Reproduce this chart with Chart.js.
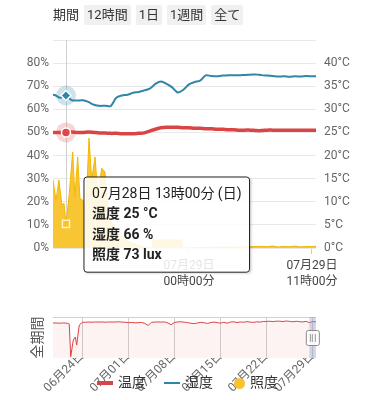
<!DOCTYPE html>
<html lang="ja">
<head>
<meta charset="utf-8">
<script src="https://cdn.jsdelivr.net/npm/chart.js@4.4.1/dist/chart.umd.min.js"></script>
<style>
  body { margin: 0; background: #fff; }
  #wrap { position: relative; width: 375px; height: 400px; overflow: hidden; font-family: Roboto, 'Noto Sans CJK JP', sans-serif; color: #333; }
  #btns { position: absolute; left: 53px; top: 5px; height: 20px; line-height: 20px; font-size: 13px; z-index: 2; }
  #btns span { display: inline-block; margin-right: 2px; }
  #btns .btn { background: #f0f0f0; padding: 0 3px; margin-left: 3px; border-radius: 2px; }
  #legend { position: absolute; left: 97px; top: 373px; height: 18px; font-size: 14px; line-height: 18px; z-index: 2; }
  #legend .item { position: absolute; top: 0; white-space: nowrap; }
  #legend .mark { display: inline-block; vertical-align: middle; margin-right: 5px; }
  canvas { position: absolute; left: 0; }
</style>
</head>
<body>
<div id="wrap">
  <canvas id="mainChart" width="375" height="300" style="top:0"></canvas>
  <canvas id="ovChart" width="375" height="100" style="top:300px"></canvas>
  <div id="btns"><span>期間</span><span class="btn">12時間</span><span class="btn">1日</span><span class="btn">1週間</span><span class="btn">全て</span></div>
  <div id="legend">
    <div class="item" style="left:0"><span class="mark" style="width:16px;height:4px;background:#d94444"></span>温度</div>
    <div class="item" style="left:67px"><span class="mark" style="width:16px;height:2px;background:#2f86a6"></span>湿度</div>
    <div class="item" style="left:137px"><span class="mark" style="width:11px;height:11px;border-radius:50%;background:#f9c22a"></span>照度</div>
  </div>
</div>
<script>
// 07/28 00:00 からの経過時間(時)
const hours = [11.5, 12, 12.5, 13, 13.5, 14, 14.5, 15, 15.5, 16, 16.5, 17, 17.5, 18, 18.5, 19, 19.5, 20, 20.5, 21,
  21.5, 22, 22.5, 23, 23.5, 24, 24.5, 25, 25.5, 26, 26.5, 27, 27.5, 28, 28.5, 29, 29.5, 30, 30.5, 31,
  31.5, 32, 32.5, 33, 33.5, 34, 34.5, 35, 35.5];
const tempValues = [25.0, 25.0, 25.0, 25.0, 25.1, 25.0, 25.0, 25.1, 25.0, 24.9, 24.9, 24.8, 24.8, 24.7, 24.7, 24.7, 24.8, 24.9, 25.3, 25.7,
  26.0, 26.1, 26.1, 26.1, 26.0, 26.0, 25.9, 25.9, 25.8, 25.8, 25.7, 25.7, 25.6, 25.6, 25.5, 25.5, 25.5, 25.4, 25.4, 25.5,
  25.5, 25.5, 25.5, 25.5, 25.5, 25.5, 25.5, 25.5, 25.5];
const humValues = [66.5, 66.2, 65.0, 66.0, 64.0, 63.8, 63.9, 63.2, 62.0, 61.5, 61.6, 61.4, 65.0, 66.0, 66.3, 67.2, 67.5, 68.2, 69.0, 71.0,
  72.0, 71.0, 69.5, 67.3, 68.5, 70.8, 71.8, 72.4, 74.7, 74.4, 74.3, 74.6, 74.7, 74.8, 74.7, 74.9, 75.0, 75.1, 74.8, 74.6,
  74.4, 74.2, 74.3, 74.1, 74.3, 74.2, 74.4, 74.3, 74.3];
const luxHours = [11.5, 11.84, 12.11, 12.37, 12.64, 12.82, 13, 13.27, 13.6, 13.8, 14.05, 14.25, 14.5, 14.79, 15.06, 15.3, 15.6, 15.86, 16.19, 16.49,
  16.67, 16.94, 17.4, 17.8, 18.7, 19.6, 20.5, 20.75, 20.8, 23.35, 23.4, 26, 29, 30.5, 31, 31.5, 32, 32.5, 33, 33.5,
  34, 34.5, 35, 35.5];
const luxValues = [180, 206, 145, 206, 130, 136, 73, 155, 291, 155, 276, 150, 145, 124, 333, 206, 276, 155, 242, 230,
  145, 85, 55, 36, 18, 6, 0, 0, 24, 24, 0, 2, 3, 5, 4, 6, 3, 5, 4, 6,
  3, 5, 4, 6];

// 全期間 (06/24 00:00 からの経過日数)
const ovDays = [-4.5, -4, -3.5, -3, -2.5, -2.2, -1.98, -1.76, -1.37, -1.06, -0.85, -0.46,
  0, 0.5, 1, 1.5, 2, 2.5, 3, 3.5, 4, 4.5, 5, 5.5, 6, 6.5, 7, 7.5, 8, 8.5, 9, 9.5, 10, 10.5, 11, 11.5,
  12, 12.5, 13, 13.5, 14, 14.5, 15, 15.5, 16, 16.5, 17, 17.5, 18, 18.5, 19, 19.5, 20, 20.5, 21, 21.5,
  22, 22.5, 23, 23.5, 24, 24.5, 25, 25.5, 26, 26.5, 27, 27.5, 28, 28.5, 29, 29.5, 30, 30.5, 31, 31.5,
  32, 32.5, 33, 33.5, 34, 34.5, 35, 35.5];
const ovTemps = [24.7, 24.8, 24.6, 24.8, 24.7, 24.5, 24.0, 0.9, 12.7, 14.9, 9.2, 23.3,
  25.2, 25.3, 25.4, 25.3, 25.5, 25.4, 25.5, 25.3, 25.5, 25.4, 25.5, 25.6, 25.4, 25.3, 25.0, 25.1, 24.9, 25.0, 25.1, 24.5, 23.0, 25.2, 25.4, 25.5,
  25.4, 25.5, 24.8, 23.5, 25.2, 25.5, 25.6, 25.3, 25.0, 24.6, 24.3, 24.8, 25.2, 24.9, 24.5, 25.0, 25.4, 25.0, 24.7, 25.3,
  24.6, 25.4, 25.6, 25.1, 25.5, 25.3, 25.7, 25.4, 25.2, 25.6, 25.4, 25.8, 25.9, 26.0, 25.7, 26.1, 26.0, 25.8, 26.2, 25.9,
  25.6, 26.0, 25.7, 25.5, 25.9, 25.0, 25.8, 25.6];

// 目盛り
const xTickHours = [24, 35];
const ovTickDays = [0, 7, 14, 21, 28, 35];
const ovTickLabels = ['06月24日', '07月01日', '07月08日', '07月15日', '07月22日', '07月29日'];
const humTicks = [0, 10, 20, 30, 40, 50, 60, 70, 80, 90];
const tempTicks = [0, 5, 10, 15, 20, 25, 30, 35, 40, 45];

const viewMin = 11.84, viewMax = 35.36;
const units = { '温度': '°C', '湿度': '%', '照度': 'lux' };
const weekDays = ['日', '月'];

Chart.defaults.font.family = "Roboto, 'Noto Sans CJK JP', sans-serif";
Chart.defaults.color = '#666';

function pad2(n) { return String(n).padStart(2, '0'); }
function dayLabel(h) { return '07月' + pad2(28 + Math.floor(h / 24)) + '日'; }
function timeLabel(h) {
  const m = Math.round((h % 24) * 60);
  return pad2(Math.floor(m / 60)) + '時' + pad2(m % 60) + '分';
}
function toPoints(xs, ys) { return xs.map((x, i) => ({ x: x, y: ys[i] })); }

// ツールチップを点の右下に置く
Chart.Tooltip.positioners.besideLine = function (items) {
  if (!items.length) return false;
  return { x: items[0].element.x + 21, y: this.chart.chartArea.top + 137 };
};

// 縦線とハイライトの輪
const hoverMarks = {
  id: 'hoverMarks',
  beforeDatasetsDraw(chart) {
    const act = chart.getActiveElements();
    if (!act.length) return;
    const ctx = chart.ctx, a = chart.chartArea;
    ctx.save();
    ctx.strokeStyle = '#d0d0d0';
    ctx.lineWidth = 1;
    ctx.beginPath();
    ctx.moveTo(Math.round(act[0].element.x) + 0.5, a.top);
    ctx.lineTo(Math.round(act[0].element.x) + 0.5, a.bottom);
    ctx.stroke();
    act.forEach(function (it) {
      const halo = chart.data.datasets[it.datasetIndex].haloColor;
      if (!halo) return;
      ctx.fillStyle = halo;
      ctx.beginPath();
      ctx.arc(it.element.x, it.element.y, 10, 0, Math.PI * 2);
      ctx.fill();
    });
    ctx.restore();
  },
  beforeTooltipDraw(chart, args) {
    const t = args.tooltip;
    if (!t.opacity) return;
    const ctx = chart.ctx;
    ctx.save();
    ctx.beginPath();
    ctx.rect(0, 0, chart.width, chart.height);
    ctx.rect(t.x + t.width, t.y, -t.width, t.height);
    ctx.clip('evenodd');
    ctx.shadowColor = 'rgba(0,0,0,0.35)';
    ctx.shadowBlur = 3;
    ctx.shadowOffsetX = 1;
    ctx.shadowOffsetY = 1;
    ctx.fillStyle = '#fff';
    ctx.fillRect(t.x, t.y, t.width, t.height);
    ctx.restore();
  }
};

const mainChart = new Chart(document.getElementById('mainChart'), {
  type: 'line',
  data: {
    datasets: [{
      label: '温度',
      data: toPoints(hours, tempValues),
      yAxisID: 'yT',
      borderColor: '#d94444',
      borderWidth: 3.5,
      pointRadius: 0,
      pointHoverRadius: 4.5,
      pointHoverBackgroundColor: '#e04848',
      pointHoverBorderColor: '#fff',
      pointHoverBorderWidth: 1.5,
      haloColor: 'rgba(230,90,90,0.25)',
      tension: 0.3
    }, {
      label: '湿度',
      data: toPoints(hours, humValues),
      yAxisID: 'yH',
      borderColor: '#2f86a6',
      borderWidth: 2,
      pointRadius: 0,
      pointStyle: 'rectRot',
      pointHoverRadius: 5,
      pointHoverBackgroundColor: '#2f86a6',
      pointHoverBorderColor: '#fff',
      pointHoverBorderWidth: 1.5,
      haloColor: 'rgba(90,150,185,0.28)',
      tension: 0.3
    }, {
      label: '照度',
      data: toPoints(luxHours, luxValues),
      yAxisID: 'yL',
      borderColor: '#f2b705',
      backgroundColor: '#f9c633',
      borderWidth: 1,
      fill: 'origin',
      pointRadius: 0,
      pointStyle: 'rect',
      pointHoverRadius: 5,
      pointHoverBackgroundColor: '#f9c22a',
      pointHoverBorderColor: '#fff4c0',
      pointHoverBorderWidth: 1.5,
      tension: 0
    }]
  },
  options: {
    responsive: false,
    animation: false,
    events: [],
    layout: { padding: { top: 40, left: 0, right: 0, bottom: 0 } },
    scales: {
      x: {
        type: 'linear', min: viewMin, max: viewMax,
        afterBuildTicks: s => { s.ticks = xTickHours.map(v => ({ value: v })); },
        afterFit: s => { s.height = 52; },
        ticks: {
          autoSkip: false, maxRotation: 0, color: '#444', padding: 4,
          font: { size: 12, lineHeight: 1.35 },
          callback: v => [dayLabel(v), timeLabel(v)]
        },
        grid: { drawOnChartArea: false, tickLength: 6, color: '#cccccc' },
        border: { display: false }
      },
      yH: {
        position: 'left', min: 0, max: 90,
        afterBuildTicks: s => { s.ticks = humTicks.map(v => ({ value: v })); },
        afterFit: s => { s.width = 53; },
        ticks: { padding: 4, font: { size: 12 }, callback: v => v === 90 ? '' : v + '%' },
        grid: { color: '#e8e8e8', drawTicks: false },
        border: { display: false }
      },
      yT: {
        position: 'right', min: 0, max: 45,
        afterBuildTicks: s => { s.ticks = tempTicks.map(v => ({ value: v })); },
        afterFit: s => { s.width = 59; },
        ticks: { padding: 8, font: { size: 12 }, callback: v => v === 45 ? '' : v + '°C' },
        grid: { drawOnChartArea: false, drawTicks: false },
        border: { display: false }
      },
      yL: { display: false, min: 0, max: 630 }
    },
    plugins: {
      legend: { display: false },
      tooltip: {
        position: 'besideLine',
        xAlign: 'left', yAlign: 'top',
        caretSize: 0, caretPadding: 0,
        backgroundColor: 'rgba(255,255,255,0.86)',
        borderColor: '#222', borderWidth: 1, cornerRadius: 3,
        titleColor: '#222', bodyColor: '#222',
        titleFont: { size: 14, weight: 'normal', lineHeight: 1.2 },
        bodyFont: { size: 14, weight: 'bold', lineHeight: 1.2 },
        padding: { top: 9, bottom: 8, left: 8, right: 8 },
        titleMarginBottom: 3, bodySpacing: 4,
        displayColors: false,
        callbacks: {
          title: items => {
            const h = items[0].parsed.x;
            return dayLabel(h) + ' ' + timeLabel(h) + ' (' + weekDays[Math.floor(h / 24)] + ')';
          },
          label: it => it.dataset.label + ' ' + Math.round(it.parsed.y) + ' ' + units[it.dataset.label]
        }
      }
    }
  },
  plugins: [hoverMarks]
});

// 13:00 の点を選択状態にする
const iT = hours.indexOf(13);
const iL = luxHours.indexOf(13);
const active = [{ datasetIndex: 0, index: iT }, { datasetIndex: 1, index: iT }, { datasetIndex: 2, index: iL }];
mainChart.setActiveElements(active);
mainChart.tooltip.setActiveElements(active, { x: 0, y: 0 });
mainChart.update();

// 選択範囲とハンドル
const windowMarks = {
  id: 'windowMarks',
  afterDatasetsDraw(chart) {
    const ctx = chart.ctx, a = chart.chartArea, x = chart.scales.x;
    const x0 = x.getPixelForValue(34 + viewMin / 24);
    const x1 = Math.min(x.getPixelForValue(34 + viewMax / 24), a.right);
    ctx.save();
    ctx.fillStyle = 'rgba(140,160,210,0.4)';
    ctx.fillRect(x0, a.top, x1 - x0, a.bottom - a.top);
    const hx = x1 - 10, hy = a.top + 13;
    ctx.fillStyle = 'rgba(255,255,255,0.9)';
    ctx.strokeStyle = '#8a8a8a';
    ctx.lineWidth = 1;
    ctx.beginPath();
    ctx.roundRect(hx + 0.5, hy + 0.5, 13, 15, 2);
    ctx.fill();
    ctx.stroke();
    ctx.strokeStyle = '#999';
    [4, 6, 9].forEach(function (dx) {
      ctx.beginPath();
      ctx.moveTo(hx + dx + 0.5, hy + 4);
      ctx.lineTo(hx + dx + 0.5, hy + 12);
      ctx.stroke();
    });
    ctx.restore();
  }
};

new Chart(document.getElementById('ovChart'), {
  type: 'line',
  data: {
    datasets: [{
      label: '温度',
      data: toPoints(ovDays, ovTemps),
      borderColor: '#d94444',
      borderWidth: 1,
      backgroundColor: 'rgba(230,80,80,0.07)',
      fill: 'start',
      pointRadius: 0,
      tension: 0
    }]
  },
  options: {
    responsive: false,
    animation: false,
    events: [],
    layout: { padding: { top: 17, right: 59, left: 0, bottom: 0 } },
    scales: {
      x: {
        type: 'linear', min: -4.45, max: 35.5,
        afterBuildTicks: s => { s.ticks = ovTickDays.map(v => ({ value: v })); },
        afterFit: s => { s.height = 42; },
        ticks: {
          autoSkip: false, minRotation: 45, maxRotation: 45, padding: -9, color: '#666',
          font: { size: 12 },
          callback: v => ovTickLabels[ovTickDays.indexOf(v)]
        },
        grid: { color: '#d0d0d0', drawTicks: false },
        border: { display: false }
      },
      y: {
        min: 0, max: 29,
        afterBuildTicks: s => { s.ticks = [{ value: 29 }]; },
        afterFit: s => { s.width = 53; },
        ticks: { display: false },
        grid: { color: '#d0d0d0', drawTicks: false },
        border: { display: false },
        title: { display: true, text: '全期間', color: '#555', font: { size: 14 }, padding: { top: 30, bottom: 0 } }
      }
    },
    plugins: { legend: { display: false }, tooltip: { enabled: false } }
  },
  plugins: [windowMarks]
});
</script>
</body>
</html>
